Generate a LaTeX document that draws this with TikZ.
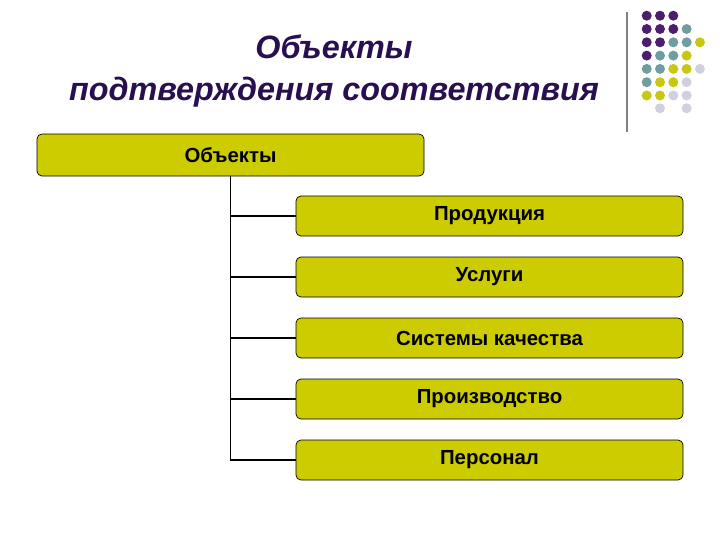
\documentclass[tikz,border=0pt]{standalone}
\usepackage{fontspec}
\setmainfont{Liberation Sans}
\usetikzlibrary{positioning, calc}
\definecolor{boxfill}{RGB}{204,204,0}
\definecolor{titlecol}{RGB}{40,15,80}
\definecolor{dotP}{RGB}{75,30,110}
\definecolor{dotT}{RGB}{110,158,160}
\definecolor{dotY}{RGB}{200,200,20}
\definecolor{dotL}{RGB}{208,208,224}

\begin{document}
\begin{tikzpicture}[x=0.025cm, y=-0.025cm,
			item/.style = {rectangle, draw, fill = boxfill, rounded corners = 3.5pt, line width = 0.5pt, minimum width = 387*0.025cm, minimum height = 40*0.025cm, text centered, font = \fontsize{14.5}{17}\bfseries\selectfont},
			link/.style = {line width = 1.2pt},
			dot/.style = {circle, inner sep = 0pt, minimum size = 10*0.025cm},
		]
		\useasboundingbox (0,0) rectangle (720,540);

		% title
		\node[font = \fontsize{23}{29.5}\bfseries\itshape\selectfont, text = titlecol, align = center](title) at (334,71){Объекты\\подтверждения соответствия};

		% decoration top right
		\draw[gray, line width = 0.8pt](627,12)--(627,132);
		\foreach \row/\cols in {0/{P,P,P},1/{P,P,P,T},2/{P,P,T,T,Y},3/{P,T,T,Y},4/{T,T,Y,Y,L},5/{T,Y,Y,L},6/{Y,Y,L,L}}{
			\foreach \c [count = \i from 0] in \cols{
				\node[dot, fill = dot\c] at (646.7+13.3*\i, 15.7+13.3*\row){};
			}
		}
		\node[dot, fill = dotL] at (660,108.3){};
		\node[dot, fill = dotL] at (686.6,108.3){};

		% boxes
		\node[item, minimum width = 387*0.025cm, minimum height = 42*0.025cm](obj) at (230.5,155){Объекты};
		\node[item](prod) at (489.5,216){Продукция};
		\node[item](usl) at (489.5,277){Услуги};
		\node[item](sist) at (489.5,338){Системы качества};
		\node[item](proizv) at (489.5,399){Производство};
		\node[item](pers) at (489.5,460){Персонал};

		% links
		\draw[link](obj.south)|-(pers.west);
		\foreach \n in {prod, usl, sist, proizv}{
			\draw[link](obj.south |- \n.west)--(\n.west);
		}

	\end{tikzpicture}
\end{document}
